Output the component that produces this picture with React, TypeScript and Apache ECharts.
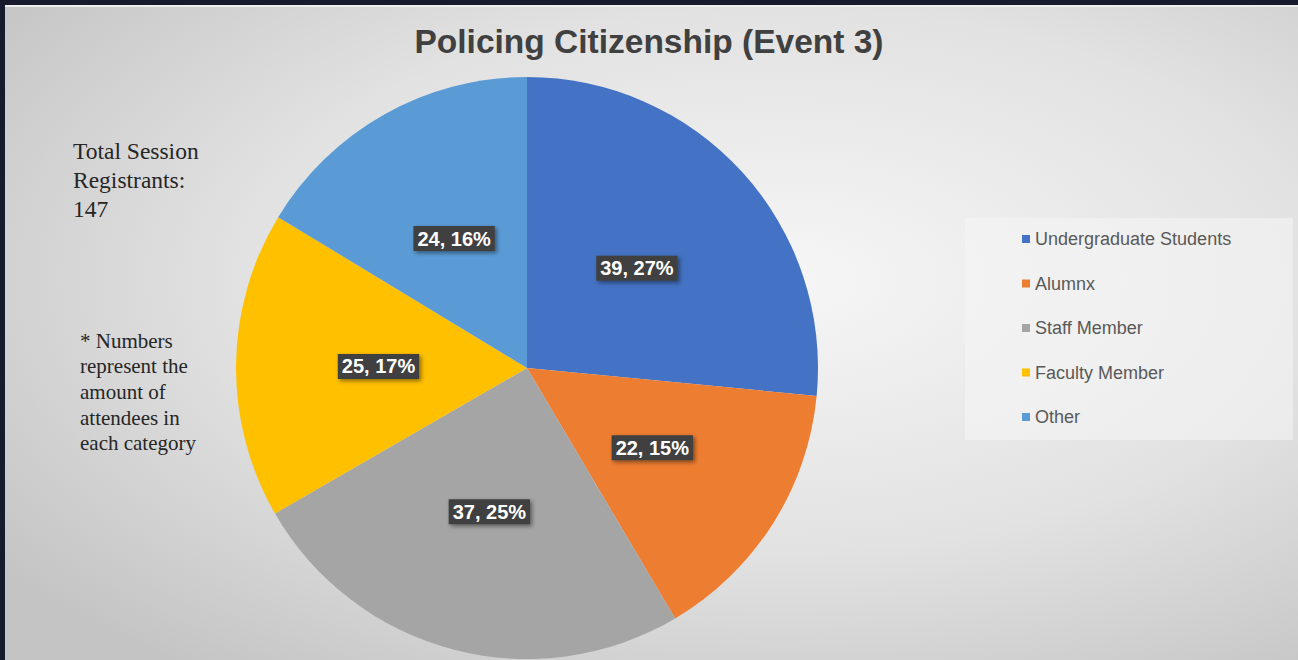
import React, { useEffect, useRef } from "react";
import * as echarts from "echarts";

const categories = ["Undergraduate Students", "Alumnx", "Staff Member", "Faculty Member", "Other"];
const counts = [39, 22, 37, 25, 24];
const colors = ["#4472C4", "#ED7D31", "#A5A5A5", "#FFC000", "#5B9BD5"];
const titleText = "Policing Citizenship (Event 3)";
const totalNote = "Total Session\nRegistrants:\n147";
const numbersNote = "* Numbers\nrepresent the\namount of\nattendees in\neach category";

export default function App() {
  const ref = useRef<HTMLDivElement>(null);
  useEffect(() => {
    if (!ref.current) return;
    const chart = echarts.init(ref.current, undefined, { renderer: "svg" });
    const data = categories.map((name, i) => ({
      name,
      value: counts[i],
      itemStyle: { color: colors[i] },
    }));
    chart.setOption({
      animation: false,
      title: {
        text: titleText,
        left: "center",
        top: 19,
        textStyle: {
          fontFamily: "Liberation Sans, Arial",
          fontWeight: "bold",
          fontSize: 33.5,
          color: "#404040",
        },
      },
      graphic: [
        { type: "rect", z: -10, silent: true, shape: { x: 0, y: 0, width: 1298, height: 660 }, style: { fill: "#181b2e" } },
        {
          type: "rect",
          z: -9,
          silent: true,
          shape: { x: 5, y: 5, width: 1293, height: 655 },
          style: {
            fill: new echarts.graphic.RadialGradient(0.6, 0.42, 0.75, [
              { offset: 0, color: "#f6f6f6" },
              { offset: 0.55, color: "#e2e2e2" },
              { offset: 1, color: "#c4c4c4" },
            ]),
          },
        },
        { type: "rect", z: -8, silent: true, shape: { x: 5, y: 5, width: 1293, height: 2 }, style: { fill: "#eeeeee" } },
        {
          type: "rect",
          z: -7,
          silent: true,
          shape: { x: 965, y: 218, width: 328, height: 222 },
          style: { fill: "rgba(245,245,245,0.55)" },
        },
        {
          type: "text",
          left: 73,
          top: 136,
          style: {
            text: totalNote,
            fontFamily: "Liberation Serif, Times New Roman",
            fontSize: 23.5,
            lineHeight: 29,
            fill: "#262626",
          },
        },
        {
          type: "text",
          left: 80,
          top: 328,
          style: {
            text: numbersNote,
            fontFamily: "Liberation Serif, Times New Roman",
            fontSize: 21,
            lineHeight: 25.6,
            fill: "#262626",
          },
        },
      ],
      legend: {
        orient: "vertical",
        left: 1017,
        top: 229,
        icon: "rect",
        itemWidth: 8,
        itemHeight: 8,
        itemGap: 24.5,
        padding: [0, 5],
        data: categories,
        textStyle: {
          fontFamily: "Liberation Sans, Arial",
          fontSize: 18,
          color: "#595959",
          lineHeight: 20,
          padding: [0, 0, 0, 0],
        },
      },
      series: [
        {
          type: "pie",
          center: [527, 368],
          radius: 291,
          startAngle: 90,
          clockwise: true,
          data,
          label: {
            position: "inside",
            formatter: (p: any) => `${p.value}, ${Math.round(p.percent)}%`,
            color: "#ffffff",
            fontFamily: "Liberation Sans, Arial",
            fontWeight: "bold",
            fontSize: 20,
            backgroundColor: "#404040",
            padding: [3, 4, 2, 4],
            shadowColor: "rgba(0,0,0,0.45)",
            shadowBlur: 4,
            shadowOffsetX: 2,
            shadowOffsetY: 2,
          },
          labelLine: { show: false },
          emphasis: { disabled: true },
        },
      ],
    });
    return () => chart.dispose();
  }, []);
  return (
    <div
      ref={ref}
      style={{ position: "absolute", left: 0, top: 0, width: 1298, height: 660 }}
    />
  );
}
